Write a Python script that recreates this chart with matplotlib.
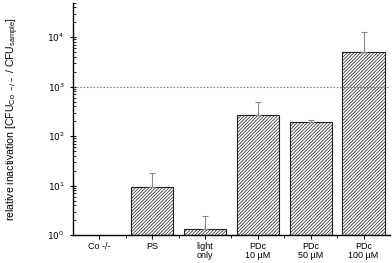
import matplotlib.pyplot as plt
import numpy as np

# Datos
categorias = ["Co -/-", "PS", "light\nonly", "PDc\n10 µM", "PDc\n50 µM", "PDc\n100 µM"]
valores = [1.0, 9.5, 1.3, 270, 195, 5000]
error_sup = [0.0, 8.5, 1.1, 230, 20, 8000]
umbral = 1000

plt.rcParams['font.family'] = ['Liberation Sans', 'DejaVu Sans']
plt.rcParams['hatch.color'] = '#666666'
plt.rcParams['hatch.linewidth'] = 0.5

fig = plt.figure(figsize=(3.92, 2.63), dpi=100)
ax = fig.add_axes([0.186, 0.106, 0.809, 0.884])

x = np.arange(len(categorias))
alturas = [v - 1 for v in valores]
barras = ax.bar(x, alturas, bottom=1, width=0.8, color='white', edgecolor='#222222',
                linewidth=0.8, hatch='//////////')
barras[0].set_visible(False)

# barras de error (solo hacia arriba)
ax.errorbar(x[1:], valores[1:], yerr=[np.zeros(len(x) - 1), error_sup[1:]],
            fmt='none', ecolor='#888888', elinewidth=0.8, capsize=2.5, capthick=0.8)

ax.axhline(umbral, color='#888888', linestyle=(0, (1.5, 1.5)), linewidth=0.8)

ax.set_yscale('log')
ax.set_ylim(1, 5e4)
ax.set_xlim(-0.5, 5.5)
ax.set_yticks([1, 10, 100, 1000, 10000])
ax.set_yticklabels([r'$10^{0}$', r'$10^{1}$', r'$10^{2}$', r'$10^{3}$', r'$10^{4}$'])
ax.set_xticks(x)
ax.set_xticklabels(categorias, linespacing=1.05)
ax.set_xticks(x[:-1] + 0.5, minor=True)

ax.tick_params(axis='both', labelsize=6.5, width=0.8)
ax.tick_params(axis='y', which='major', direction='inout', length=5)
ax.tick_params(axis='y', which='minor', direction='in', length=2.5, width=0.6)
ax.tick_params(axis='x', which='major', direction='out', length=3, pad=2)
ax.tick_params(axis='x', which='minor', direction='out', length=2, width=0.6)

ax.spines['top'].set_visible(False)
ax.spines['right'].set_visible(False)
ax.spines['left'].set_linewidth(1.0)
ax.spines['bottom'].set_linewidth(1.0)

ax.set_ylabel(r'relative inactivation [CFU$_{\mathregular{Co\ -/-}}$ / CFU$_{\mathregular{sample}}$]',
              fontsize=7.6, labelpad=19)

fig.savefig('out.png', dpi=100)
